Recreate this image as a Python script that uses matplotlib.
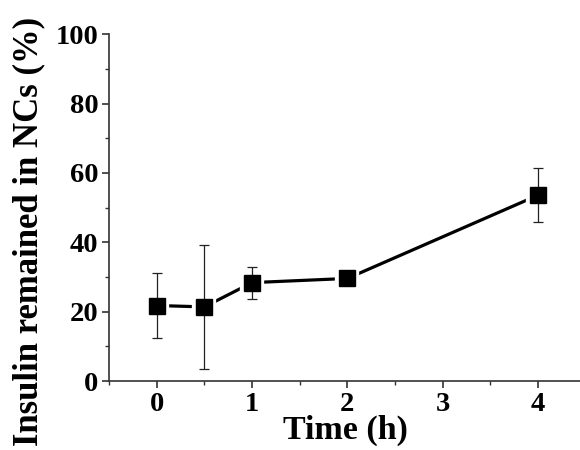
import matplotlib
matplotlib.use('Agg')
import matplotlib.pyplot as plt
from matplotlib.ticker import MultipleLocator

# data
time_h = [0, 0.5, 1, 2, 4]
insulin = [21.8, 21.4, 28.4, 29.6, 53.6]
insulin_err = [9.5, 17.8, 4.6, 1.0, 7.7]

plt.rcParams['font.family'] = ['Liberation Serif', 'DejaVu Serif']
plt.rcParams['font.weight'] = 'bold'

fig = plt.figure(figsize=(5.8, 4.5), dpi=100)
ax = fig.add_axes([0.188, 0.153, 0.812, 0.771])

# line with white gaps around the markers
ax.plot(time_h, insulin, '-', color='black', lw=2.3, zorder=2,
        marker='s', ms=11.5, mfc='white', mec='white', mew=6)
ax.errorbar(time_h, insulin, yerr=insulin_err, fmt='none', ecolor='#222222',
            elinewidth=0.9, capsize=3.5, capthick=0.9, zorder=3)
ax.plot(time_h, insulin, 's', color='black', ms=11.5, zorder=4)

ax.set_xlim(-0.5, 4.44)
ax.set_ylim(0, 100)
ax.xaxis.set_major_locator(MultipleLocator(1))
ax.xaxis.set_minor_locator(MultipleLocator(0.5))
ax.yaxis.set_major_locator(MultipleLocator(20))
ax.yaxis.set_minor_locator(MultipleLocator(10))

for s in ['top', 'right']:
    ax.spines[s].set_visible(False)
for s in ['left', 'bottom']:
    ax.spines[s].set_linewidth(1.2)
    ax.spines[s].set_color('#333333')

ax.tick_params(which='major', direction='out', length=5, width=1.2,
               color='#333333', labelsize=20.5, pad=2.5)
ax.tick_params(which='minor', direction='out', length=3, width=1.0,
               color='#333333')

ax.set_xlabel('Time (h)', fontsize=24.5, fontweight='bold')
ax.set_ylabel('Insulin remained in NCs (%)', fontsize=25, fontweight='bold')
ax.xaxis.set_label_coords(0.503, -0.097)
ax.yaxis.set_label_coords(-0.135, 0.432)

fig.savefig('out.png', dpi=100)
